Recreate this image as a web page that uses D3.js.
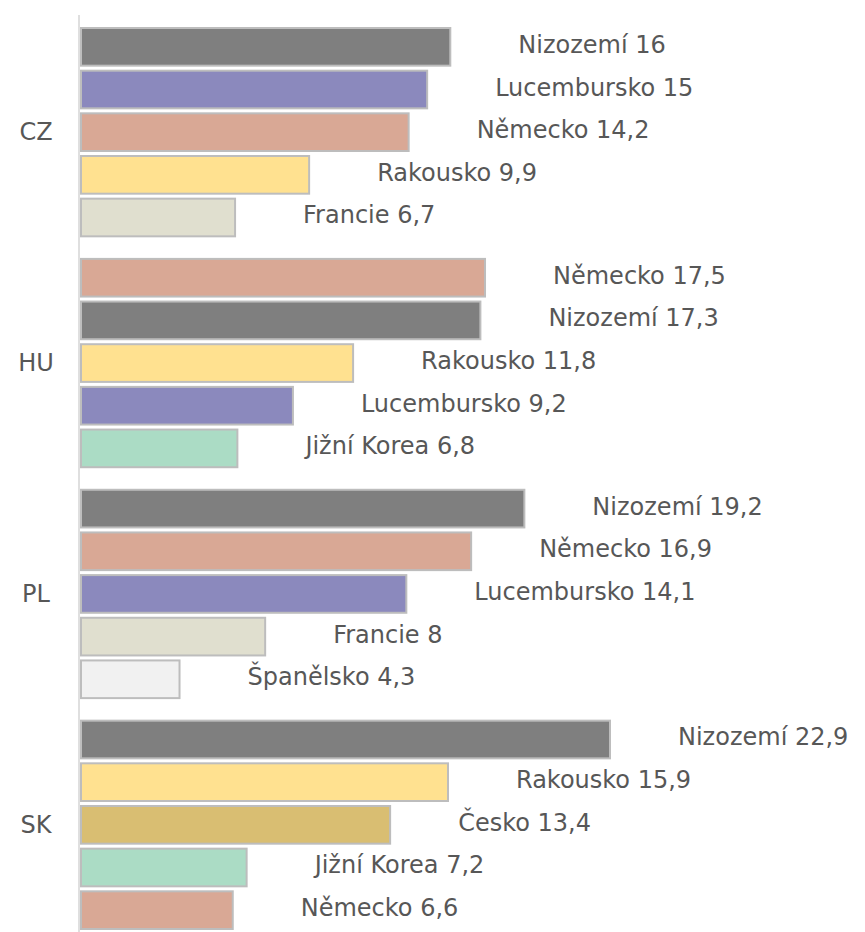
<!DOCTYPE html>
<html>
<head>
<meta charset="utf-8">
<script src="https://cdn.jsdelivr.net/npm/d3@7"></script>
<style>
  html, body { margin: 0; padding: 0; background: #ffffff; }
  svg { display: block; }
  text { font-family: "DejaVu Sans", "Century Gothic", sans-serif; fill: #575757; }
</style>
</head>
<body>
<svg id="chart" width="865" height="932"></svg>
<script>
// Top five partner countries for each reporting country
const groups = ["CZ", "HU", "PL", "SK"];

const czCountries = ["Nizozemí", "Lucembursko", "Německo", "Rakousko", "Francie"];
const czValues    = [16, 15, 14.2, 9.9, 6.7];

const huCountries = ["Německo", "Nizozemí", "Rakousko", "Lucembursko", "Jižní Korea"];
const huValues    = [17.5, 17.3, 11.8, 9.2, 6.8];

const plCountries = ["Nizozemí", "Německo", "Lucembursko", "Francie", "Španělsko"];
const plValues    = [19.2, 16.9, 14.1, 8, 4.3];

const skCountries = ["Nizozemí", "Rakousko", "Česko", "Jižní Korea", "Německo"];
const skValues    = [22.9, 15.9, 13.4, 7.2, 6.6];

const countryColors = {
  "Nizozemí":    "#7f7f7f",
  "Lucembursko": "#8b89bd",
  "Německo":     "#d9a895",
  "Rakousko":    "#ffe190",
  "Francie":     "#e0dfcf",
  "Jižní Korea": "#abdcc5",
  "Španělsko":   "#f1f1f1",
  "Česko":       "#d9be72"
};

const groupCountries = [czCountries, huCountries, plCountries, skCountries];
const groupValues    = [czValues, huValues, plValues, skValues];

const rows = groups.map((g, i) => ({
  group: g,
  bars: groupCountries[i].map((c, j) => ({ country: c, value: groupValues[i][j], rank: j }))
}));

const svg = d3.select("#chart");

const x = d3.scaleLinear().domain([0, 22.9]).range([80, 610]);

const yGroup = d3.scaleBand()
  .domain(groups)
  .range([27, 930])
  .paddingInner(0.089);

const yBar = d3.scaleBand()
  .domain(d3.range(5))
  .range([0, yGroup.bandwidth()])
  .paddingInner(0.07);

// vertical category axis line
svg.append("line")
  .attr("x1", 79).attr("x2", 79)
  .attr("y1", 15).attr("y2", 932)
  .attr("stroke", "#d4d4d4")
  .attr("stroke-width", 1.5);

const g = svg.selectAll("g.group")
  .data(rows)
  .join("g")
  .attr("class", "group")
  .attr("transform", d => `translate(0,${yGroup(d.group)})`);

// group labels
g.append("text")
  .attr("x", 36)
  .attr("y", yGroup.bandwidth() / 2)
  .attr("text-anchor", "middle")
  .attr("dominant-baseline", "central")
  .style("font-size", "24px")
  .text(d => d.group);

// bars
g.selectAll("rect")
  .data(d => d.bars)
  .join("rect")
  .attr("x", x(0) + 1)
  .attr("y", d => yBar(d.rank) + 1)
  .attr("width", d => x(d.value) - x(0) - 1)
  .attr("height", yBar.bandwidth() - 2)
  .attr("fill", d => countryColors[d.country])
  .attr("stroke", "#bdbdbd")
  .attr("stroke-width", 2);

// value labels
const fmt = v => String(v).replace(".", ",");
g.selectAll("text.value")
  .data(d => d.bars)
  .join("text")
  .attr("class", "value")
  .attr("x", d => x(d.value) + 68)
  .attr("y", d => yBar(d.rank) + yBar.bandwidth() / 2 - 2)
  .attr("dominant-baseline", "central")
  .style("font-size", "24px")
  .text(d => `${d.country} ${fmt(d.value)}`);
</script>
</body>
</html>
